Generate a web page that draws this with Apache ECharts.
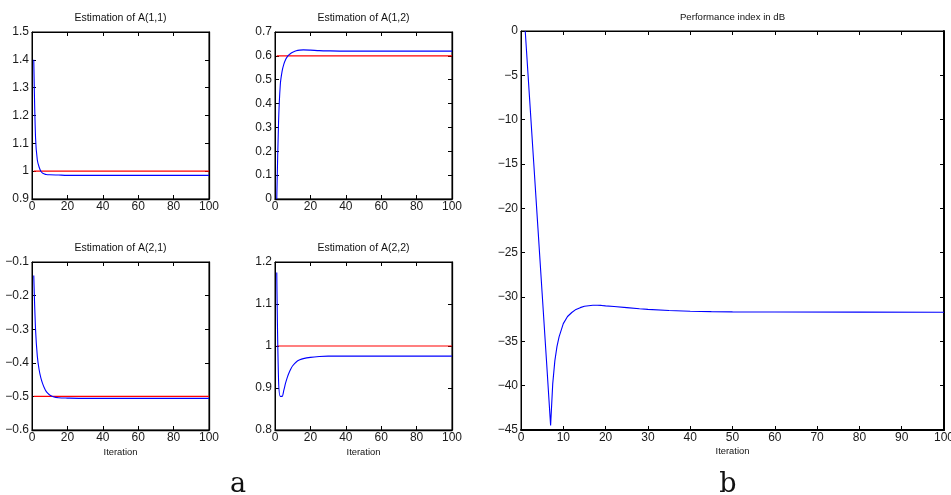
<!DOCTYPE html>
<html>
<head>
<meta charset="utf-8">
<script src="https://cdn.jsdelivr.net/npm/echarts@6/dist/echarts.min.js"></script>
<style>html,body{margin:0;padding:0;background:#fff;}#c{width:951px;height:495px;}</style>
</head>
<body>
<div id="c"></div>
<script>
// ---- data ----
const titles = ['Estimation of A(1,1)', 'Estimation of A(1,2)', 'Estimation of A(2,1)', 'Estimation of A(2,2)', 'Performance index in dB'];

const xA11 = [1, 2, 3, 4, 5, 6, 7, 8, 10, 15, 20, 30, 50, 100];
const yA11 = [1.40, 1.12, 1.04, 1.015, 1.0, 0.993, 0.99, 0.988, 0.987, 0.986, 0.985, 0.985, 0.985, 0.985];
const refA11 = 1.0;

const xA12 = [1, 2, 3, 4, 5, 6, 7, 8, 9, 10, 12, 14, 16, 20, 25, 30, 40, 60, 100];
const yA12 = [0, 0.32, 0.48, 0.535, 0.565, 0.585, 0.597, 0.605, 0.611, 0.615, 0.621, 0.624, 0.625, 0.624, 0.622, 0.621, 0.62, 0.62, 0.62];
const refA12 = 0.6;

const xA21 = [1, 2, 3, 4, 5, 6, 7, 8, 9, 10, 12, 15, 20, 30, 50, 100];
const yA21 = [-0.14, -0.30, -0.38, -0.42, -0.445, -0.462, -0.475, -0.485, -0.491, -0.496, -0.501, -0.504, -0.505, -0.506, -0.506, -0.506];
const refA21 = -0.5;

const xA22 = [1, 2, 3, 4, 5, 6, 7, 8, 9, 10, 12, 14, 16, 20, 25, 30, 50, 100];
const yA22 = [1.175, 0.92, 0.88, 0.88, 0.895, 0.912, 0.926, 0.937, 0.946, 0.953, 0.962, 0.967, 0.970, 0.973, 0.975, 0.976, 0.976, 0.976];
const refA22 = 1.0;

const xPerf = [1, 2, 3, 4, 5, 6, 7, 7.5, 8, 8.5, 9, 10, 11, 12, 13, 14, 15, 16, 17, 18, 19, 20, 22, 25, 28, 30, 35, 40, 45, 50, 60, 80, 100];
const yPerf = [0, -7.4, -14.8, -22.2, -29.6, -37.0, -44.5, -39.8, -37.2, -35.6, -34.5, -33.0, -32.2, -31.75, -31.4, -31.2, -31.05, -30.98, -30.93, -30.93, -30.95, -31.0, -31.08, -31.2, -31.33, -31.4, -31.52, -31.6, -31.65, -31.68, -31.7, -31.71, -31.72];

const xTicksSmall = {min: 0, max: 100, interval: 20};
const xTicksBig = {min: 0, max: 100, interval: 10};
const yRanges = [
  {min: 0.9, max: 1.5, interval: 0.1},
  {min: 0, max: 0.7, interval: 0.1},
  {min: -0.6, max: -0.1, interval: 0.1},
  {min: 0.8, max: 1.2, interval: 0.1},
  {min: -45, max: 0, interval: 5}
];

// ---- layout ----
const grids = [
  {left: 32, top: 32, width: 177, height: 167},
  {left: 275, top: 32, width: 177, height: 167},
  {left: 32, top: 262, width: 177, height: 168},
  {left: 275, top: 262, width: 177, height: 168},
  {left: 521, top: 31, width: 423, height: 399}
];
const titleSizes = [10.5, 10.5, 10.5, 10.5, 9.6];

const FONT = "'Liberation Sans', Arial, Helvetica, sans-serif";
function fmt(v) {
  const s = parseFloat(Number(v).toFixed(3)).toString();
  return s.replace('-', '\u2212');
}

const xAxis = [], yAxis = [], series = [], graphic = [];
grids.forEach((g, i) => {
  const xr = i === 4 ? xTicksBig : xTicksSmall;
  const yr = yRanges[i];
  const lineBase = {show: true, onZero: false, lineStyle: {color: '#000', width: 1}};
  const tickBase = {show: true, inside: true, length: 4, lineStyle: {color: '#000', width: 1}};
  xAxis.push({type: 'value', gridIndex: i, position: 'bottom', min: xr.min, max: xr.max, interval: xr.interval,
    axisLine: {show: true, onZero: false, lineStyle: {color: '#000', width: i === 4 ? 2 : 1.3}},
    axisTick: tickBase, splitLine: {show: false},
    axisLabel: {color: '#1a1a1a', fontFamily: FONT, fontSize: 12, margin: 2, formatter: fmt}});
  xAxis.push({type: 'value', gridIndex: i, position: 'top', min: xr.min, max: xr.max, interval: xr.interval,
    axisLine: lineBase, axisTick: tickBase, splitLine: {show: false}, axisLabel: {show: false}});
  yAxis.push({type: 'value', gridIndex: i, position: 'left', min: yr.min, max: yr.max, interval: yr.interval,
    axisLine: lineBase, axisTick: tickBase, splitLine: {show: false},
    axisLabel: {color: '#1a1a1a', fontFamily: FONT, fontSize: 12, margin: 3, formatter: fmt}});
  yAxis.push({type: 'value', gridIndex: i, position: 'right', min: yr.min, max: yr.max, interval: yr.interval,
    axisLine: {show: true, onZero: false, lineStyle: {color: '#000', width: i === 4 ? 2 : 1.3}},
    axisTick: tickBase, splitLine: {show: false}, axisLabel: {show: false}});
  graphic.push({type: 'text', x: g.left + g.width / 2, y: g.top - 19,
    style: {text: titles[i], fill: '#111', font: titleSizes[i] + 'px ' + FONT, textAlign: 'center'}});
});

function pairs(xs, ys) { return xs.map((x, k) => [x, ys[k]]); }
const blues = [[xA11, yA11], [xA12, yA12], [xA21, yA21], [xA22, yA22], [xPerf, yPerf]];
const refs = [refA11, refA12, refA21, refA22];
blues.forEach((b, i) => {
  if (i < 4) {
    series.push({type: 'line', name: 'true ' + i, xAxisIndex: 2 * i, yAxisIndex: 2 * i,
      data: [[1, refs[i]], [100, refs[i]]], showSymbol: false, symbol: 'none',
      lineStyle: {color: '#ff0000', width: 1.2}, silent: true, z: 2});
  }
  series.push({type: 'line', name: 'est ' + i, xAxisIndex: 2 * i, yAxisIndex: 2 * i,
    data: pairs(b[0], b[1]), showSymbol: false, symbol: 'none', smooth: i === 4 ? false : 0.3,
    lineStyle: {color: '#0000ff', width: 1.1}, silent: true, z: 3});
});

// axis names and panel letters
[2, 3].forEach(i => {
  const g = grids[i];
  graphic.push({type: 'text', x: g.left + g.width / 2, y: 448,
    style: {text: 'Iteration', fill: '#111', font: '9.4px ' + FONT, textAlign: 'center'}});
});
graphic.push({type: 'text', x: grids[4].left + grids[4].width / 2, y: 447,
  style: {text: 'Iteration', fill: '#111', font: '9.4px ' + FONT, textAlign: 'center'}});
graphic.push({type: 'text', x: 238, y: 471,
  style: {text: 'a', fill: '#111', font: '27px "DejaVu Serif", "Liberation Serif", serif', textAlign: 'center'}});
graphic.push({type: 'text', x: 728, y: 471,
  style: {text: 'b', fill: '#111', font: '27px "DejaVu Serif", "Liberation Serif", serif', textAlign: 'center'}});

const chart = echarts.init(document.getElementById('c'), null, {renderer: 'canvas'});
chart.setOption({
  animation: false,
  backgroundColor: '#fff',
  grid: grids.map(g => Object.assign({containLabel: false, outerBoundsMode: 'none',
    show: true, borderColor: '#000', borderWidth: 1, backgroundColor: 'transparent'}, g)),
  xAxis, yAxis, series, graphic
});
</script>
</body>
</html>
